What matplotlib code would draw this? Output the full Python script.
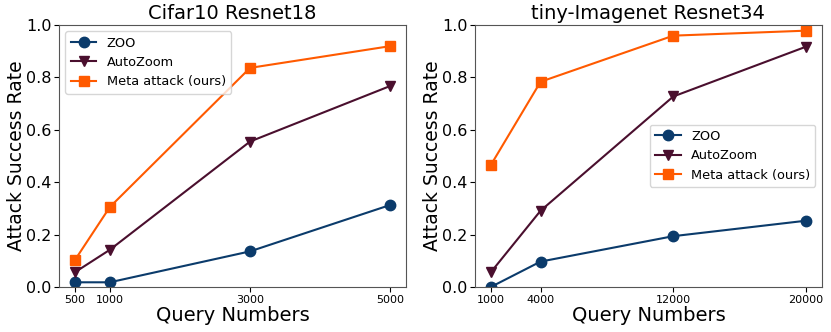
import matplotlib
matplotlib.use("Agg")
import matplotlib.pyplot as plt

# Left panel: Cifar10 Resnet18
cifar_queries = [500, 1000, 3000, 5000]
cifar_zoo = [0.018, 0.018, 0.136, 0.313]
cifar_autozoom = [0.056, 0.142, 0.555, 0.767]
cifar_meta = [0.102, 0.305, 0.836, 0.919]

# Right panel: tiny-Imagenet Resnet34
tiny_queries = [1000, 4000, 12000, 20000]
tiny_zoo = [0.0, 0.097, 0.194, 0.253]
tiny_autozoom = [0.056, 0.291, 0.727, 0.917]
tiny_meta = [0.465, 0.783, 0.959, 0.978]

series_labels = ["ZOO", "AutoZoom", "Meta attack (ours)"]
colors = ["#0b3b6b", "#4a0f2e", "#ff5a00"]
markers = ["o", "v", "s"]

fig = plt.figure(figsize=(8.31, 3.32), dpi=100)
ax1 = fig.add_axes([0.071, 0.1355, 0.4176, 0.7895])
ax2 = fig.add_axes([0.5716, 0.1355, 0.4174, 0.7895])

panels = [
    (ax1, "Cifar10 Resnet18", cifar_queries, [cifar_zoo, cifar_autozoom, cifar_meta], "upper left"),
    (ax2, "tiny-Imagenet Resnet34", tiny_queries, [tiny_zoo, tiny_autozoom, tiny_meta], "center right"),
]

for ax, title, q, series, loc in panels:
    for vals, lab, c, m in zip(series, series_labels, colors, markers):
        ax.plot(q, vals, color=c, marker=m, markersize=7.5, linewidth=1.5, label=lab)
    ax.set_ylim(0.0, 1.0)
    ax.set_xticks(q)
    ax.set_xticklabels([str(v) for v in q], fontsize=8)
    ax.set_yticks([0.0, 0.2, 0.4, 0.6, 0.8, 1.0])
    ax.set_yticklabels(["0.0", "0.2", "0.4", "0.6", "0.8", "1.0"], fontsize=11.5)
    ax.set_title(title, fontsize=14, pad=4)
    ax.set_xlabel("Query Numbers", fontsize=14, labelpad=1)
    ax.set_ylabel("Attack Success Rate", fontsize=13.5, labelpad=0)
    ax.tick_params(axis="both", length=3.5, pad=2)
    for s in ax.spines.values():
        s.set_color("#555555")
    ax.legend(loc=loc, fontsize=9.3)

fig.savefig("out.png", dpi=100)
